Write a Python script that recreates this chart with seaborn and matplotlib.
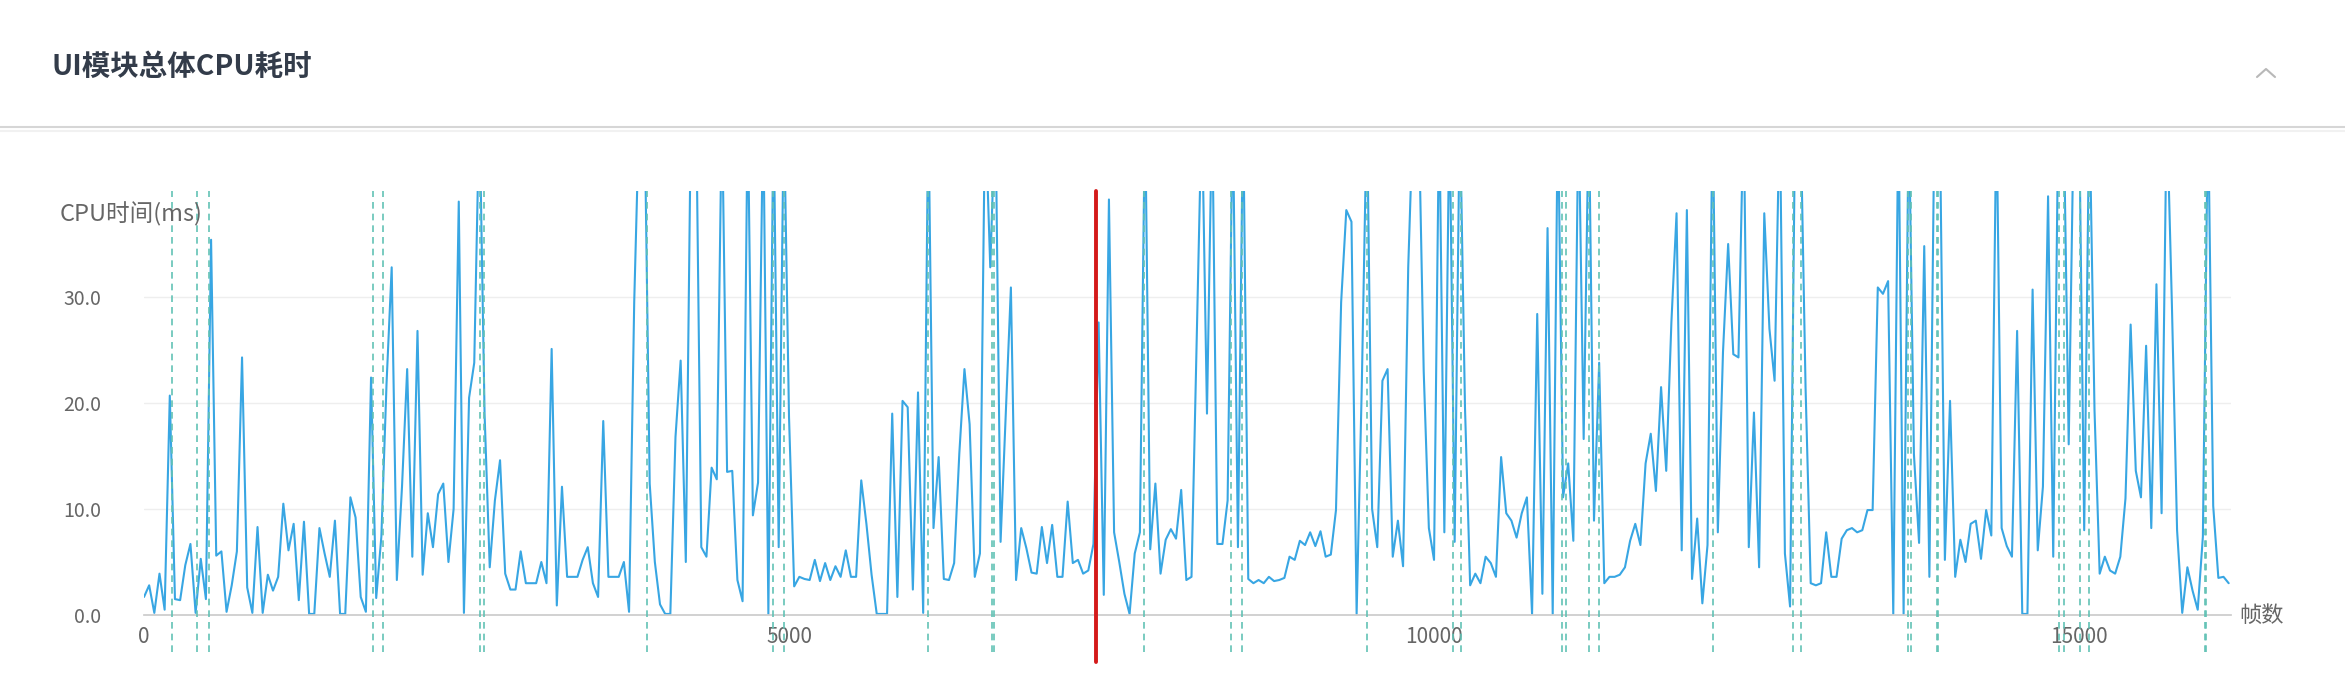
import numpy as np
import pandas as pd
import seaborn as sns
import matplotlib.pyplot as plt
from matplotlib.lines import Line2D
from matplotlib.ticker import FormatStrFormatter

# frame step of the sampled series
frame_step = 40

# UI module CPU time per sample (ms); values above 40 are clipped
cpu_ms = [
    1.7, 2.8, 0.2, 3.9, 0.5, 20.7, 1.5, 1.4, 4.7, 6.7,
    0.2, 5.3, 1.5, 35.4, 5.6, 6.0, 0.3, 2.8, 6.0, 24.3,
    2.6, 0.2, 8.3, 0.2, 3.8, 2.3, 3.6, 10.5, 6.1, 8.6,
    1.4, 8.8, 0.1, 0.1, 8.2, 5.8, 3.6, 8.9, 0.1, 0.1,
    11.1, 9.2, 1.7, 0.3, 22.4, 1.6, 7.4, 21.8, 32.8, 3.3,
    12.1, 23.2, 5.5, 26.8, 3.8, 9.6, 6.4, 11.4, 12.4, 5.0,
    10.0, 39.0, 0.2, 20.5, 23.8, 48, 19.0, 4.5,
    10.8, 14.6, 3.9, 2.4, 2.4, 6.0, 3.0, 3.0, 3.0, 5.0,
    3.0, 25.1, 0.9, 12.1, 3.6, 3.6, 3.6, 5.2, 6.4, 3.0,
    1.7, 18.3, 3.6, 3.6, 3.6, 5.0, 0.3, 29.5, 48, 48,
    12.4, 5.0, 1.0, 0.1, 0.1, 16.8, 24.0, 5.0, 48, 48,
    6.4, 5.5, 13.9, 12.8, 48, 13.5, 13.6, 3.3, 1.3, 48,
    9.4, 12.5, 48, 0.1, 48, 6.4, 48, 18.7, 2.7, 3.6,
    3.4, 3.3, 5.2, 3.2, 4.9, 3.3, 4.6, 3.6,
    6.1, 3.6, 3.6, 12.7, 8.6, 3.8, 0.1, 0.1, 0.1, 19.0,
    1.7, 20.2, 19.6, 2.4, 21.0, 0.2, 48, 8.2, 14.9, 3.4,
    3.3, 4.9, 15.2, 23.2, 18.0, 3.6, 5.8, 48, 32.8, 48,
    6.9, 18.8, 30.9, 3.3, 8.2, 6.3, 4.0, 3.9, 8.3, 4.9,
    8.5, 3.6, 3.6, 10.7, 4.9, 5.2, 3.9, 4.2, 6.7, 27.6,
    1.9, 39.2, 7.8, 5.0, 2.0, 0.1, 5.8, 7.8, 48, 6.2,
    12.4, 3.9, 7.1, 8.1, 7.2, 11.8, 3.3,
    3.6, 25.9, 48, 19.0, 48, 6.7, 6.7, 10.8, 48, 6.4,
    48, 3.4, 3.0, 3.3, 3.0, 3.6, 3.2, 3.3, 3.5, 5.5,
    5.2, 7.0, 6.6, 7.8, 6.5, 7.9, 5.5, 5.7, 9.9, 29.5,
    38.2, 37.1, 0.1, 21.6, 48, 10.0, 6.4, 22.1, 23.2, 5.5,
    8.9, 4.6, 32.8, 48, 48, 23.0, 8.2, 5.2, 48, 7.8,
    48, 6.9, 48, 19.6, 2.8, 3.9, 3.0, 5.5, 4.9, 3.6,
    14.9, 9.6, 8.9, 7.3, 9.6, 11.1, 0.1, 28.4,
    2.0, 36.5, 0.1, 48, 11.1, 14.3, 7.0, 48, 16.6, 48,
    8.9, 23.8, 3.0, 3.6, 3.6, 3.8, 4.5, 7.0, 8.6, 6.6,
    14.3, 17.1, 11.7, 21.5, 13.6, 27.6, 37.9, 6.1, 38.2, 3.4,
    9.1, 1.1, 6.6, 48, 7.8, 24.8, 35.0, 24.6, 24.3, 48,
    6.4, 19.1, 4.5, 37.9, 27.0, 22.1, 48, 5.8, 0.8, 48,
    48, 21.5, 3.0, 2.8, 3.0, 7.8, 3.6, 3.6, 7.2, 8.0,
    8.2, 7.8, 8.0, 9.9, 9.9, 30.9, 30.3, 31.5,
    0.1, 48, 0.1, 48, 15.2, 6.8, 34.8, 3.6, 48, 48,
    5.2, 20.2, 3.6, 7.1, 5.0, 8.6, 8.9, 5.3, 9.9, 7.5,
    48, 8.2, 6.5, 5.5, 26.8, 0.1, 0.1, 30.7, 6.1, 12.1,
    39.5, 5.5, 48, 48, 16.1, 48, 48, 8.0, 48, 19.3,
    3.9, 5.5, 4.2, 3.9, 5.5, 11.0, 27.4, 13.6, 11.1, 25.4,
    8.2, 31.2, 9.6, 48, 29.2, 8.0, 0.2, 4.5, 2.3, 0.5,
    7.4, 48, 10.3, 3.5, 3.6, 3.0,
]
frames = np.arange(len(cpu_ms)) * frame_step

# frames marked with dashed lines, and the highlighted frame (red)
mark_frames = [219, 409, 506, 1777, 1855, 2607, 2634, 3897, 4878, 4961,
               6075, 6574, 6591, 7752, 8429, 8509, 9478, 10145, 10207,
               10990, 11023, 11202, 11281, 12163, 12785, 12845, 13677,
               13698, 13897, 13907, 14845, 14884, 15008, 15078, 15975, 15985]
current_frame = 7382

x_ticks = [0, 5000, 10000, 15000]
y_ticks = [0, 10, 20, 30]
title = "UI模块总体CPU耗时"
y_name = "CPU时间(ms)"
x_name = "帧数"

sns.set_theme(style="white")
plt.rcParams['font.family'] = ['Noto Sans CJK SC', 'DejaVu Sans']

W, H = 2345, 692
fig = plt.figure(figsize=(W / 100, H / 100), dpi=100)
ax = fig.add_axes([144 / W, 1 - 615 / H, 2087 / W, 424 / H])

df = pd.DataFrame({'frame': frames, 'cpu': cpu_ms})
sns.lineplot(data=df, x='frame', y='cpu', ax=ax, color='#38a6e3',
             linewidth=1.5, estimator=None, zorder=2)

for f in mark_frames:
    ax.axvline(f, ymin=-0.087, ymax=1, color='#62c2b5', lw=1.2,
               ls=(0, (4, 3)), clip_on=False, zorder=3)
ax.axvline(current_frame, ymin=-0.11, ymax=1, color='#d41a1a', lw=2.8,
           clip_on=False, zorder=4)

ax.set_xlim(0, 16178)
ax.set_ylim(0, 40)
ax.set_xticks(x_ticks)
ax.set_yticks(y_ticks)
ax.yaxis.set_major_formatter(FormatStrFormatter('%.1f'))
ax.set_xlabel('')
ax.set_ylabel('')
ax.grid(axis='y', color='#eeeeee', lw=1)
ax.grid(axis='x', visible=False)
for s in ['top', 'right', 'left']:
    ax.spines[s].set_visible(False)
ax.spines['bottom'].set_color('#cccccc')
ax.tick_params(axis='y', length=0, labelsize=14, colors='#666666', pad=31)
ax.tick_params(axis='x', length=0, labelsize=15, colors='#666666', pad=8)

ax.text(1.004, 0, x_name, transform=ax.transAxes, ha='left', va='center',
        fontsize=16, color='#666666')
fig.text(60 / W, 1 - 214 / H, y_name, ha='left', va='center',
         fontsize=17, color='#666666')

# panel header
fig.text(52 / W, 1 - 67 / H, title, ha='left', va='center', fontsize=20.5,
         fontweight='bold', color='#333c4a')
fig.add_artist(Line2D([0, 1], [1 - 127 / H] * 2, color='#d6d6d6', lw=1.5))
fig.add_artist(Line2D([0, 1], [1 - 131 / H] * 2, color='#f1f1f1', lw=1.5))
fig.add_artist(Line2D([2257 / W, 2266 / W, 2275 / W],
                      [1 - 77 / H, 1 - 69 / H, 1 - 77 / H],
                      color='#b8b8b8', lw=1.5))

plt.savefig("out.png", dpi=100)
